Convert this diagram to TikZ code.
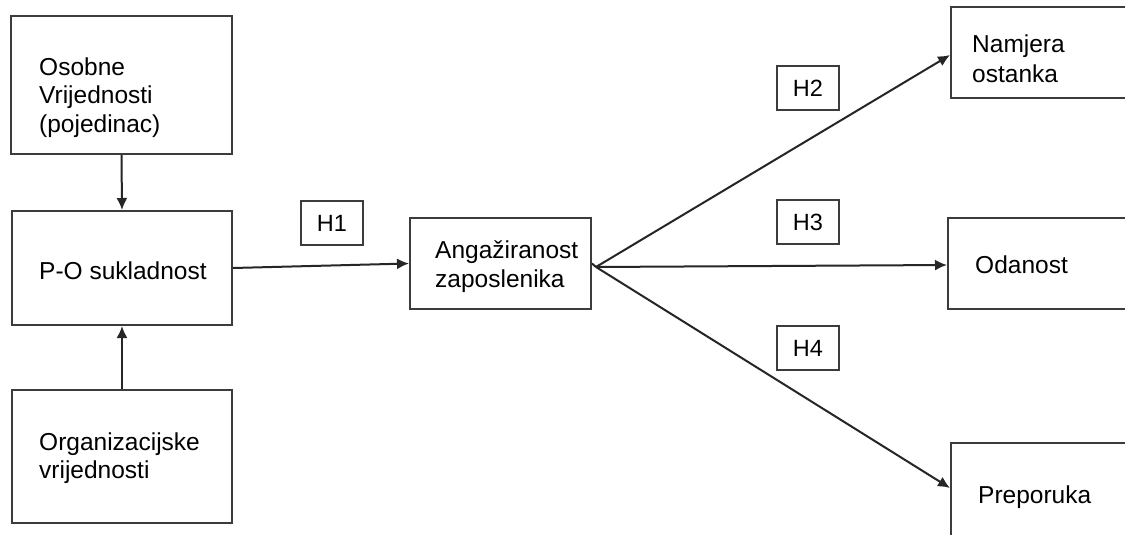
\documentclass[tikz,border=0pt]{standalone}
\usepackage{fontspec}
\setmainfont{Liberation Sans}
\usetikzlibrary{arrows.meta}
\definecolor{boxc}{HTML}{3C3C3C}
\definecolor{linec}{HTML}{262626}
\begin{document}
\begin{tikzpicture}[x=1pt,y=-1pt,
  box/.style={draw=boxc, line width=2pt, rectangle, inner sep=0pt},
  hbox/.style={draw=boxc, line width=2pt, rectangle, minimum width=62pt, minimum height=44pt, inner sep=0pt, font=\fontsize{23.5}{28}\selectfont},
  lbl/.style={anchor=base west, inner sep=0pt, font=\fontsize{24.5}{28.5}\selectfont},
  arr/.style={draw=linec, line width=2pt, -{Latex[length=12pt,width=11pt]}},
  ln/.style={draw=linec, line width=2pt}]
\clip (0,0) rectangle (1125,535);
\fill[white] (0,0) rectangle (1125,535);
% boxes
\node[box, minimum width=221pt, minimum height=138pt] (b1) at (121.5,85) {};
\node[box, minimum width=220pt, minimum height=114pt] (b2) at (122,268) {};
\node[box, minimum width=220pt, minimum height=133pt] (b3) at (122,456.5) {};
\node[box, minimum width=181pt, minimum height=91pt] (ang) at (500.5,263.5) {};
\node[box, minimum width=189pt, minimum height=91pt] (nam) at (1045.5,52.5) {};
\node[box, minimum width=192pt, minimum height=91pt] (od) at (1044,263.5) {};
\node[box, minimum width=189pt, minimum height=102pt] (pre) at (1045.5,494) {};
% texts
\node[lbl] (t1a) at (39,75) {Osobne};
\node[lbl] (t1b) at (39,103.5) {Vrijednosti};
\node[lbl] (t1c) at (39,132) {(pojedinac)};
\node[lbl] (t2) at (39,279) {P-O sukladnost};
\node[lbl] (t3a) at (39,450) {Organizacijske};
\node[lbl] (t3b) at (39,478.5) {vrijednosti};
\node[lbl] (t4a) at (435,258) {Angažiranost};
\node[lbl] (t4b) at (435,287) {zaposlenika};
\node[lbl] (t5a) at (972,53) {Namjera};
\node[lbl] (t5b) at (972,82) {ostanka};
\node[lbl] (t6) at (975,273) {Odanost};
\node[lbl] (t7) at (978,503) {Preporuka};
% hypothesis labels
\node[hbox] (h1) at (332,223) {H1};
\node[hbox] (h2) at (808,88) {H2};
\node[hbox] (h3) at (808,222) {H3};
\node[hbox] (h4) at (808,348) {H4};
% connectors
\coordinate (br) at (596,267);
\draw[arr] (b1.south) -- (b2.north);
\draw[arr] (b3.north) -- (b2.south);
\draw[arr] (b2.east) -- (ang.west);
\draw[ln] (ang.east) -- (br);
\draw[arr] (br) -- ([yshift=-2.5pt]nam.west);
\draw[arr] (br) -- ([yshift=-1.5pt]od.west);
\draw[arr] (br) -- ([yshift=6pt]pre.west);
\end{tikzpicture}
\end{document}
